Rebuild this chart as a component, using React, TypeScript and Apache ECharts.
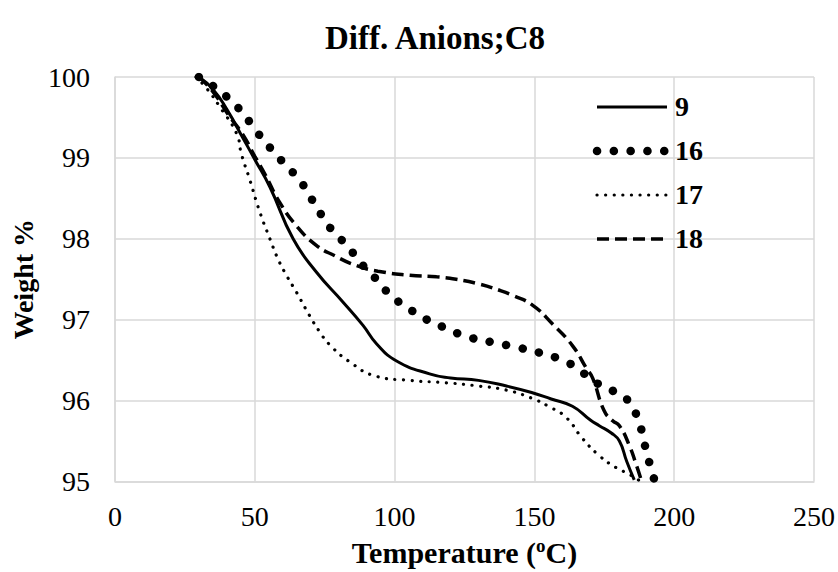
import React, { useEffect, useRef } from "react";
import * as echarts from "echarts";

const seriesNames = ["9", "16", "17", "18"];

const t9 = [30, 35, 40, 46, 50, 55.4, 63.7, 72, 81.5, 88.7, 93.6, 100.7, 112.5, 120, 130, 140, 149, 156, 163.6, 170, 173.2, 177.5, 180.4, 183, 185.7];
const w9 = [100, 99.85, 99.6, 99.23, 98.98, 98.64, 98.0, 97.59, 97.22, 96.93, 96.7, 96.49, 96.33, 96.28, 96.25, 96.18, 96.1, 96.02, 95.93, 95.76, 95.69, 95.6, 95.5, 95.25, 95.02];

const t16 = [30, 35, 44, 51, 55.1, 58.9, 63.1, 67, 70, 73, 76.4, 80.4, 84.3, 87.9, 91.9, 95.8, 100, 105, 109.9, 118, 126, 135, 143.6, 152, 160.7, 166, 170.8, 176, 181, 185, 187.1, 189, 190, 191.8, 193];
const w16 = [100, 99.89, 99.62, 99.31, 99.14, 98.99, 98.84, 98.68, 98.51, 98.34, 98.16, 98.01, 97.86, 97.7, 97.56, 97.4, 97.26, 97.14, 97.03, 96.9, 96.79, 96.72, 96.66, 96.59, 96.49, 96.38, 96.25, 96.15, 96.07, 95.93, 95.75, 95.55, 95.36, 95.16, 95.0];

const t17 = [29, 33, 37.5, 43.5, 45.2, 48.2, 51.8, 55.4, 58.3, 61.3, 64.9, 69.6, 73, 76.8, 83.9, 93.5, 105, 118.6, 130, 140, 149, 155, 161.4, 167, 173.2, 179.3, 183.9, 188];
const w17 = [100, 99.85, 99.63, 99.3, 99.05, 98.73, 98.33, 98.0, 97.75, 97.55, 97.34, 97.05, 96.86, 96.69, 96.48, 96.3, 96.25, 96.22, 96.18, 96.13, 96.03, 95.93, 95.79, 95.54, 95.32, 95.17, 95.09, 95.0];

const t18 = [30, 35, 41, 45.7, 50, 53.6, 58.9, 64.9, 72, 78.6, 86.3, 94, 105.4, 115, 122, 130.4, 137, 142.3, 149.3, 156.4, 163.6, 168.6, 170.8, 175, 178, 180.4, 183.9, 186.4, 188.2];
const w18 = [100, 99.82, 99.51, 99.29, 99.02, 98.8, 98.45, 98.16, 97.92, 97.79, 97.67, 97.6, 97.55, 97.53, 97.5, 97.44, 97.37, 97.3, 97.18, 96.95, 96.68, 96.4, 96.28, 95.87, 95.75, 95.69, 95.45, 95.21, 95.02];

const zip = (t: number[], w: number[]) => t.map((x, i) => [x, w[i]]);

const FONT = "'Liberation Serif', 'Times New Roman', serif";

export default function App() {
  const ref = useRef<HTMLDivElement>(null);
  useEffect(() => {
    if (!ref.current) return;
    const chart = echarts.init(ref.current, null, { renderer: "svg" });
    const styles: any[] = [
      { dash: null, width: 3, cap: "butt" },
      { dash: [0.1, 16.7], width: 8.5, cap: "round" },
      { dash: [0.1, 8.5], width: 3.2, cap: "round" },
      { dash: [12, 6], width: 3.5, cap: "butt" },
    ];
    const datas = [zip(t9, w9), zip(t16, w16), zip(t17, w17), zip(t18, w18)];
    const legendRows = [107, 151, 195, 239];
    const legendGraphics: any[] = [];
    seriesNames.forEach((n, i) => {
      const s = styles[i];
      legendGraphics.push({
        type: "line",
        shape: { x1: 597, y1: legendRows[i], x2: 667, y2: legendRows[i] },
        style: { stroke: "#000", lineWidth: s.width, lineDash: s.dash || undefined, lineCap: s.cap },
        z: 10,
      });
      legendGraphics.push({
        type: "text",
        left: 675,
        top: legendRows[i] - 15,
        style: { text: n, fontFamily: FONT, fontWeight: "bold", fontSize: 28, fill: "#000" },
        z: 10,
      });
    });
    chart.setOption({
      animation: false,
      backgroundColor: "#fff",
      title: {
        text: "Diff. Anions;C8",
        left: 430,
        textAlign: "center",
        top: 16,
        textStyle: { fontFamily: FONT, fontWeight: "bold", fontSize: 33, color: "#000" },
      },
      graphic: legendGraphics,
      grid: { left: 115, right: 23, top: 77, bottom: 90 },
      xAxis: {
        type: "value",
        min: 0,
        max: 250,
        interval: 50,
        name: "Temperature ({sup|o}C)",
        nameLocation: "middle",
        nameGap: 54,
        nameTextStyle: {
          fontFamily: FONT, fontWeight: "bold", fontSize: 30, color: "#000",
          rich: { sup: { fontFamily: FONT, fontWeight: "bold", fontSize: 19, color: "#000", verticalAlign: "top", padding: [0, 0, 14, 0] } },
        },
        axisLine: { show: true, lineStyle: { color: "#d9d9d9", width: 1.5 } },
        axisTick: { show: false },
        splitLine: { show: true, lineStyle: { color: "#d9d9d9", width: 1.5 } },
        axisLabel: { fontFamily: FONT, fontSize: 28, color: "#000", margin: 21 },
      },
      yAxis: {
        type: "value",
        min: 95,
        max: 100,
        interval: 1,
        name: "Weight %",
        nameLocation: "middle",
        nameRotate: 90,
        nameGap: 77,
        nameTextStyle: { fontFamily: FONT, fontWeight: "bold", fontSize: 28, color: "#000" },
        axisLine: { show: true, lineStyle: { color: "#d9d9d9", width: 1.5 } },
        axisTick: { show: false },
        splitLine: { show: true, lineStyle: { color: "#d9d9d9", width: 1.5 } },
        axisLabel: { fontFamily: FONT, fontSize: 28, color: "#000", margin: 25 },
      },
      series: seriesNames.map((n, i) => ({
        name: n,
        type: "line",
        data: datas[i],
        smooth: 0.5,
        showSymbol: false,
        symbol: "none",
        clip: true,
        lineStyle: {
          color: "#000",
          width: styles[i].width,
          type: styles[i].dash || "solid",
          cap: styles[i].cap,
        },
        itemStyle: { color: "#000" },
      })),
    });
    return () => chart.dispose();
  }, []);
  return <div ref={ref} style={{ position: "fixed", left: 0, top: 0, width: 838, height: 572 }} />;
}
